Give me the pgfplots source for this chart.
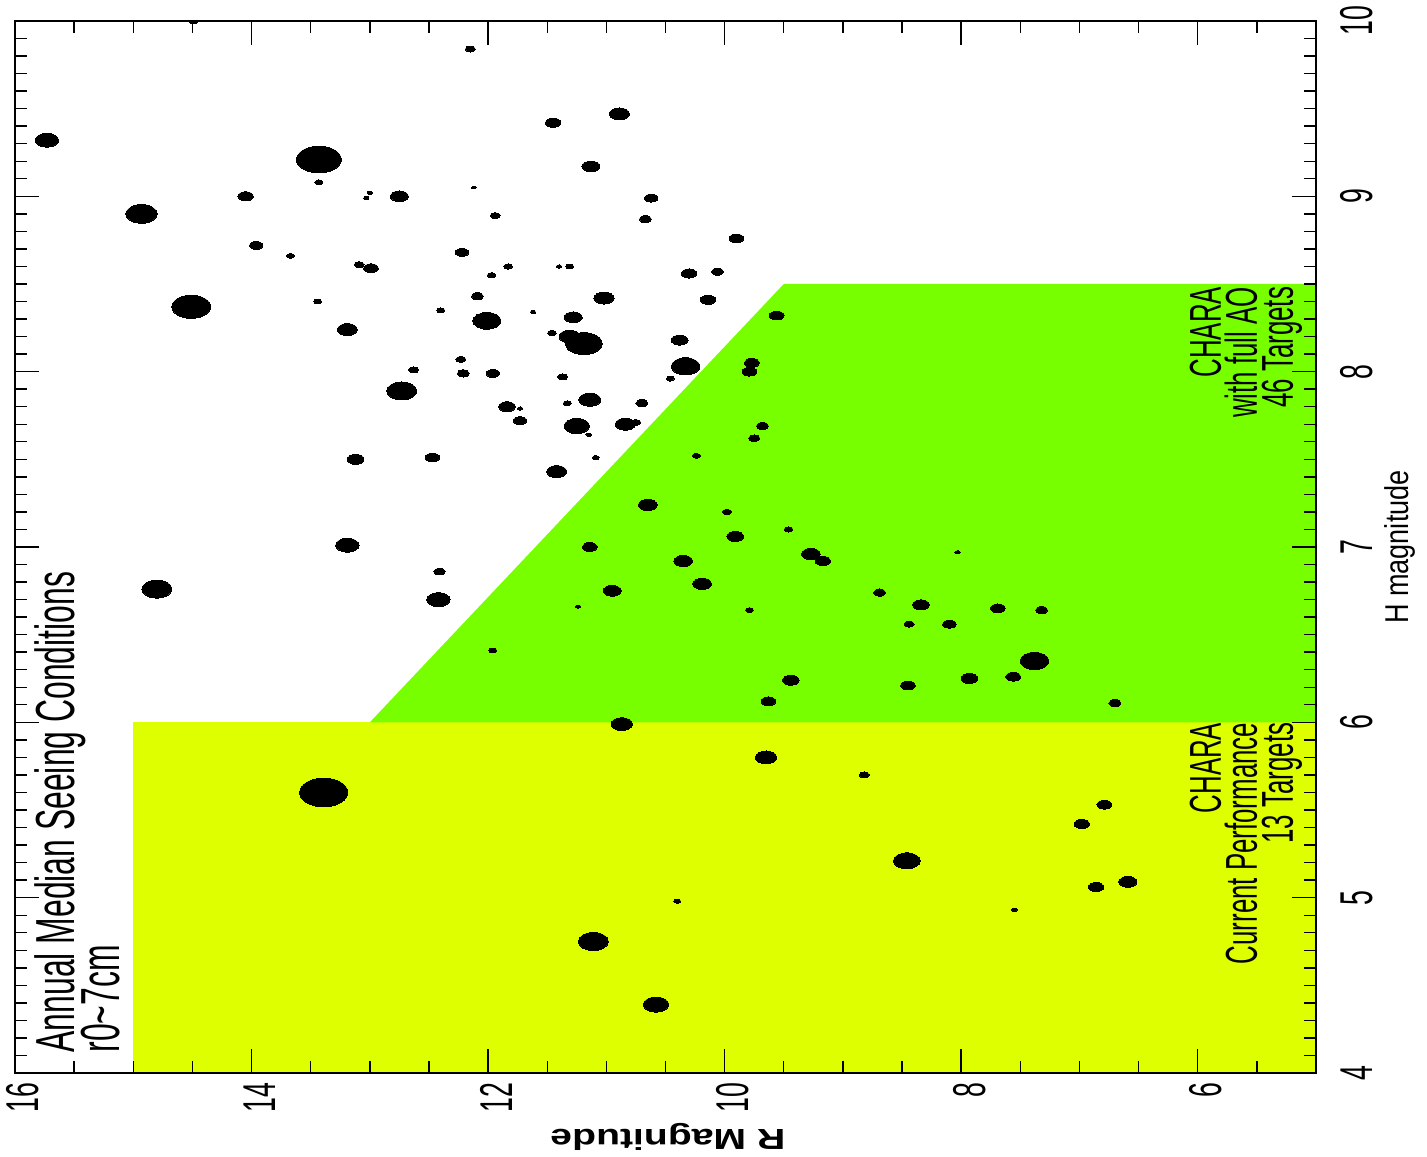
\documentclass[border=0pt]{standalone}
\usepackage{pgfplots}
\pgfplotsset{compat=1.18}
\usepackage{pgfplotstable}
\usepackage{fontspec}
\setmainfont{Liberation Sans}
\newfontfamily\cond[FakeStretch=0.58]{Liberation Sans}
\newfontfamily\hcond[FakeStretch=0.82]{Liberation Sans}
\newfontfamily\wide[FakeStretch=1.35]{Liberation Sans}
\definecolor{yel}{RGB}{221,255,0}
\definecolor{grn}{RGB}{119,255,0}

\pgfplotstableread{
R H r
14.49 10.00 1.4
15.73 9.32 3.5
13.43 9.21 6.7
13.43 9.08 1.2
14.05 9.00 2.3
13.00 9.02 0.8
13.03 8.99 0.8
12.75 9.00 2.7
14.93 8.90 4.7
13.96 8.72 2.0
13.67 8.66 1.2
13.09 8.61 1.5
12.99 8.59 2.2
13.44 8.40 1.2
12.40 8.35 1.2
14.51 8.37 5.8
13.19 8.24 3.0
12.63 8.01 1.5
12.15 9.84 1.5
11.45 9.42 2.3
10.89 9.47 3.0
11.13 9.17 2.7
12.12 9.05 0.7
11.94 8.89 1.5
10.62 8.99 2.0
10.67 8.87 1.8
9.90 8.76 2.2
12.22 8.68 2.0
11.83 8.60 1.3
11.97 8.55 1.3
11.40 8.60 0.8
11.31 8.60 1.2
10.30 8.56 2.3
10.06 8.57 1.8
12.09 8.43 1.8
11.02 8.42 3.0
10.14 8.41 2.3
12.01 8.29 4.2
11.62 8.34 0.8
11.28 8.31 2.7
9.56 8.32 2.2
11.46 8.22 1.3
11.31 8.20 3.2
11.19 8.16 5.5
10.38 8.18 2.5
12.23 8.07 1.5
10.33 8.03 4.3
9.77 8.05 2.2
9.79 8.00 2.2
12.21 7.99 1.8
11.96 7.99 2.0
11.37 7.97 1.5
10.46 7.96 1.2
11.84 7.80 2.5
11.73 7.79 0.8
11.73 7.72 2.0
11.33 7.82 1.2
11.14 7.84 3.3
10.70 7.82 1.8
11.25 7.69 3.8
11.15 7.64 0.8
10.84 7.70 3.0
10.75 7.71 1.5
11.09 7.51 1.0
11.42 7.43 3.0
9.68 7.69 1.8
9.75 7.62 1.7
10.24 7.52 1.2
10.65 7.24 2.8
9.98 7.20 1.3
9.46 7.10 1.3
9.91 7.06 2.5
11.14 7.00 2.2
9.27 6.96 2.8
9.17 6.92 2.3
10.35 6.92 2.8
10.19 6.79 2.8
10.95 6.75 2.7
8.69 6.74 1.8
11.24 6.66 0.8
9.79 6.64 1.2
11.96 6.41 1.2
9.44 6.24 2.5
9.63 6.12 2.2
10.87 5.99 3.2
8.03 6.97 0.8
8.34 6.67 2.5
7.69 6.65 2.2
7.32 6.64 1.8
8.44 6.56 1.5
8.10 6.56 2.0
7.38 6.35 4.3
8.45 6.21 2.2
7.93 6.25 2.5
7.56 6.26 2.2
6.70 6.11 1.8
12.73 7.89 4.5
13.12 7.50 2.5
12.47 7.51 2.2
13.19 7.01 3.5
12.41 6.86 1.7
14.80 6.76 4.5
12.42 6.70 3.5
13.39 5.60 7.2
9.65 5.80 3.2
8.82 5.70 1.5
8.46 5.21 4.0
10.40 4.98 1.0
11.11 4.75 4.5
10.58 4.39 3.8
6.79 5.53 2.2
6.98 5.42 2.3
6.86 5.06 2.3
6.59 5.09 2.7
7.55 4.93 0.8
}\stars

\begin{document}
\begin{tikzpicture}
\begin{axis}[
  scale only axis, width=650.5pt, height=526pt,
  xmin=5, xmax=16, x dir=reverse, ymin=4, ymax=10,
  xtick={6,8,10,12,14,16}, minor xtick={5,5.5,...,16},
  ytick={4,5,...,10}, minor y tick num=9,
  tick align=inside, xtick pos=both, ytick pos=both,
  xticklabel pos=left, yticklabel pos=right,
  major tick length=12pt, minor tick length=6pt,
  axis on top, clip marker paths=true,
  /pgf/number format/assume math mode=true,
  tick label style={font=\cond\fontsize{23}{23}\selectfont},
  xticklabel style={xshift=4pt, rotate=90, anchor=east, inner sep=0pt},
  xticklabel shift=4.5pt,
  yticklabel style={rotate=90, anchor=north, inner sep=0pt},
  yticklabel shift=12pt,
  axis line style={line width=1pt, black},
  tick style={line width=0.7pt, black},
]
\fill[yel] (axis cs:15,4) rectangle (axis cs:5,6);
\fill[grn] (axis cs:13,6) -- (axis cs:5,6) -- (axis cs:5,8.5) -- (axis cs:9.5,8.5) -- cycle;

\addplot[scatter, only marks, mark=*,
  scatter/use mapped color={draw=black, fill=black},
  visualization depends on={\thisrow{r} \as \ms},
  scatter/@pre marker code/.append style={/tikz/mark size=\ms},
  mark options={xscale=1.67, line width=0pt},
] table[x=R, y=H, meta=r] {\stars};

\node[rotate=90, anchor=north west, inner sep=0pt, align=left,
  font=\cond\fontsize{27.5}{22.7}\selectfont\setlength{\lineskiplimit}{-30pt}]
  at (axis cs:15.84,4.115) {Annual Median Seeing Conditions\\r0\textasciitilde 7cm};
\node[rotate=90, anchor=north east, inner sep=0pt, align=right,
  font=\cond\fontsize{22.3}{18}\selectfont\setlength{\lineskiplimit}{-30pt}]
  at (axis cs:6.07,6.0) {CHARA\\Current Performance\\13 Targets};
\node[rotate=90, anchor=north east, inner sep=0pt, align=right,
  font=\cond\fontsize{22.3}{18}\selectfont\setlength{\lineskiplimit}{-30pt}]
  at (axis cs:6.07,8.485) {CHARA\\with full AO\\46 Targets};

\coordinate (rlab) at (axis cs:10.48,3.633);
\coordinate (hlab) at (axis cs:4.42,7.0);
\coordinate (SW) at (rel axis cs:0,0);
\coordinate (NE) at (rel axis cs:1,1);
\end{axis}
\node[rotate=180, inner sep=0pt, font=\wide\bfseries\fontsize{14.5}{14.5}\selectfont] at (rlab) {R Magnitude};
\node[rotate=90, anchor=north, inner sep=0pt, font=\hcond\fontsize{16.5}{16.5}\selectfont] at (hlab) {H magnitude};
\pgfresetboundingbox
\path ([shift={(-7.5pt,-41.5pt)}]SW) rectangle ([shift={(55.5pt,10.5pt)}]NE);
\end{tikzpicture}
\end{document}
